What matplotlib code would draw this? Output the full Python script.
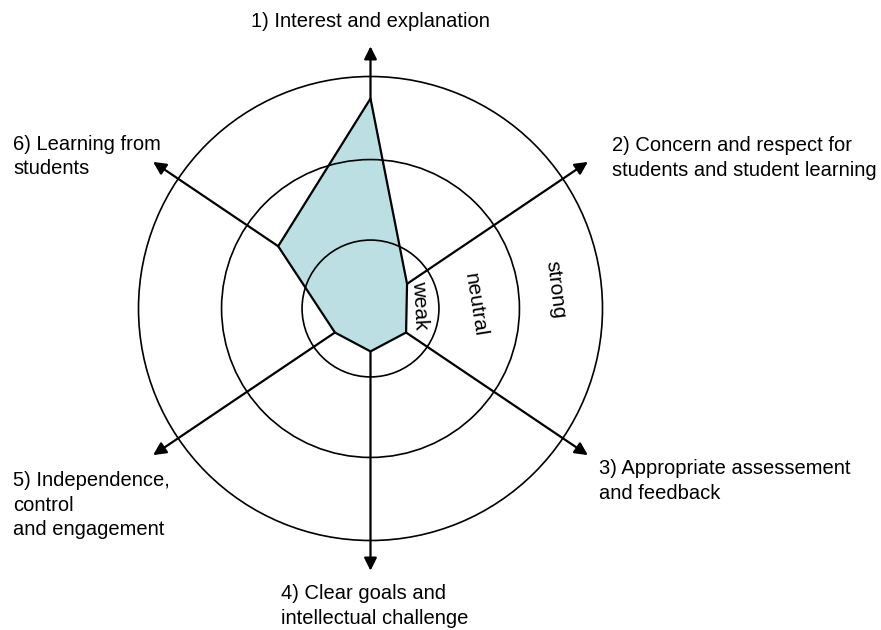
import numpy as np
import matplotlib
matplotlib.use("Agg")
import matplotlib.pyplot as plt
from matplotlib.patches import Circle

plt.rcParams["font.family"] = ["Liberation Sans", "DejaVu Sans"]

# criteria (clockwise from top) and their angles in degrees
labels = [
    "1) Interest and explanation",
    "2) Concern and respect for\nstudents and student learning",
    "3) Appropriate assessement\nand feedback",
    "4) Clear goals and\nintellectual challenge",
    "5) Independence,\ncontrol\nand engagement",
    "6) Learning from\nstudents",
]
angles = [90, 34, -34, -90, -146, 146]

# scores as a fraction of the outer ring
scores = [0.905, 0.19, 0.185, 0.185, 0.185, 0.48]

# rings: weak / neutral / strong
ring_names = ["weak", "neutral", "strong"]
ring_radii = [0.295, 0.642, 1.0]

AXIS_LEN = 1.13
FILL = "#bbdfe3"
FS = 14.5

W, H = 881, 630
cx, cy, scale = 370.5, 308.5, 232.0

fig = plt.figure(figsize=(W / 100, H / 100), dpi=100)
ax = fig.add_axes([0, 0, 1, 1])
ax.set_xlim(-cx / scale, (W - cx) / scale)
ax.set_ylim(-(H - cy) / scale, cy / scale)
ax.axis("off")

th = np.deg2rad(angles)

# axis arrows (under the polygon)
for a in th:
    ax.annotate("", xy=(AXIS_LEN * np.cos(a), AXIS_LEN * np.sin(a)), xytext=(0, 0),
                arrowprops=dict(arrowstyle="-|>", color="black", lw=1.6,
                                mutation_scale=19, shrinkA=0, shrinkB=0),
                zorder=1)

# score polygon
px = np.array(scores) * np.cos(th)
py = np.array(scores) * np.sin(th)
ax.fill(px, py, facecolor=FILL, edgecolor="black", lw=1.6, zorder=2)

# rings on top
for r in ring_radii:
    ax.add_patch(Circle((0, 0), r, fill=False, edgecolor="black", lw=1.2, zorder=3))

# criterion labels
label_pos = [
    (0.0, 1.239, "center"),
    (1.04, 0.649, "left"),
    (0.986, -0.744, "left"),
    (-0.385, -1.282, "left"),
    (-1.541, -0.847, "left"),
    (-1.54, 0.655, "left"),
]
for text, (x, y, ha) in zip(labels, label_pos):
    ax.text(x, y, text, ha=ha, va="center", fontsize=FS, linespacing=1.36)

# ring labels
ring_label_pos = [(0.213, 0.015, -87), (0.45, 0.015, -81), (0.795, 0.08, -83)]
for name, (x, y, rot) in zip(ring_names, ring_label_pos):
    ax.text(x, y, name, ha="center", va="center", rotation=rot,
            rotation_mode="anchor", fontsize=15, zorder=4)

fig.savefig("out.png", dpi=100)
